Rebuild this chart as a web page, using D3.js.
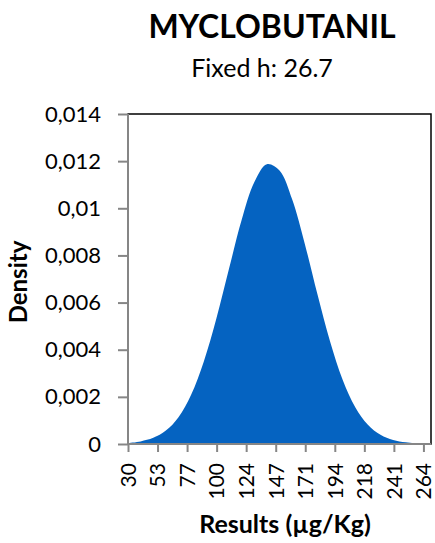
<!DOCTYPE html>
<html>
<head>
<meta charset="utf-8">
<script src="https://cdn.jsdelivr.net/npm/d3@7"></script>
<style>
  body { margin: 0; background: #fff; }
  svg text { font-family: Lato, "Open Sans", sans-serif; fill: #000; }
</style>
</head>
<body>
<svg id="chart" width="435" height="543"></svg>
<script>
// values
const resultsX = [30, 40, 50, 60, 70, 80, 90, 100, 110, 120, 130, 140, 150, 160, 170, 180, 190, 200, 210, 220, 230, 240, 250, 260, 270];
const density  = [0.000042, 0.00011, 0.00026, 0.00057, 0.00114, 0.00209, 0.00349, 0.00532, 0.00743, 0.0095, 0.0111, 0.01187, 0.0116, 0.01038, 0.0085, 0.00636, 0.00436, 0.00273, 0.00156, 0.00082, 0.00039, 0.00017, 0.00007, 0.000025, 0.0000085];
const xTicks   = [30, 53.4, 76.8, 100.2, 123.6, 147, 170.4, 193.8, 217.2, 240.6, 264];
const xLabels  = ['30', '53', '77', '100', '124', '147', '171', '194', '218', '241', '264'];
const yTicks   = [0, 0.002, 0.004, 0.006, 0.008, 0.01, 0.012, 0.014];
const yLabels  = ['0', '0,002', '0,004', '0,006', '0,008', '0,01', '0,012', '0,014'];

const svg = d3.select('#chart');
const plotLeft = 128, plotRight = 431, plotTop = 114, plotBottom = 444;

const x = d3.scaleLinear().domain([30, 270]).range([plotLeft, plotRight]);
const y = d3.scaleLinear().domain([0, 0.014]).range([plotBottom, plotTop]);

// plot frame
svg.append('rect')
  .attr('x', plotLeft).attr('y', plotTop)
  .attr('width', plotRight - plotLeft).attr('height', plotBottom - plotTop)
  .attr('fill', 'none').attr('stroke', '#000').attr('stroke-width', 1.5);

// density area
const area = d3.area()
  .x((d, i) => x(resultsX[i]))
  .y0(y(0))
  .y1(d => y(d))
  .curve(d3.curveCatmullRom.alpha(0.5));

svg.append('path')
  .datum(density)
  .attr('d', area)
  .attr('fill', '#0563C1');

// y axis
const yAxis = svg.append('g')
  .attr('transform', `translate(${plotLeft},0)`)
  .call(d3.axisLeft(y).tickValues(yTicks).tickSize(10).tickPadding(17)
    .tickFormat((d, i) => yLabels[i]));
yAxis.selectAll('line, path').attr('stroke', '#868686').attr('stroke-width', 2);
yAxis.select('.domain').attr('d', `M0,${plotTop}V${plotBottom}`);
yAxis.selectAll('text').attr('font-size', 22).attr('font-family', 'Lato, sans-serif');

// x axis
const xAxis = svg.append('g')
  .attr('transform', `translate(0,${plotBottom})`)
  .call(d3.axisBottom(x).tickValues(xTicks).tickSize(8)
    .tickFormat((d, i) => xLabels[i]));
xAxis.selectAll('line, path').attr('stroke', '#868686').attr('stroke-width', 2);
xAxis.select('.domain').attr('d', `M${plotLeft},0H${plotRight}`);
xAxis.selectAll('text')
  .attr('font-size', 21)
  .attr('font-family', 'Lato, sans-serif')
  .attr('text-anchor', 'end')
  .attr('dy', '0.35em')
  .attr('transform', 'translate(0,8) rotate(-90)')
  .attr('x', -11).attr('y', 0);

// titles
svg.append('text')
  .attr('x', 272).attr('y', 38)
  .attr('text-anchor', 'middle')
  .attr('font-size', 32).attr('font-weight', 'bold')
  .text('MYCLOBUTANIL');

svg.append('text')
  .attr('x', 262).attr('y', 77)
  .attr('text-anchor', 'middle')
  .attr('font-size', 25)
  .text('Fixed h: 26.7');

svg.append('text')
  .attr('transform', 'translate(27,282) rotate(-90)')
  .attr('text-anchor', 'middle')
  .attr('font-size', 24).attr('font-weight', 'bold')
  .text('Density');

svg.append('text')
  .attr('x', 285).attr('y', 533)
  .attr('text-anchor', 'middle')
  .attr('font-size', 25).attr('font-weight', 'bold')
  .text('Results (µg/Kg)');
</script>
</body>
</html>
